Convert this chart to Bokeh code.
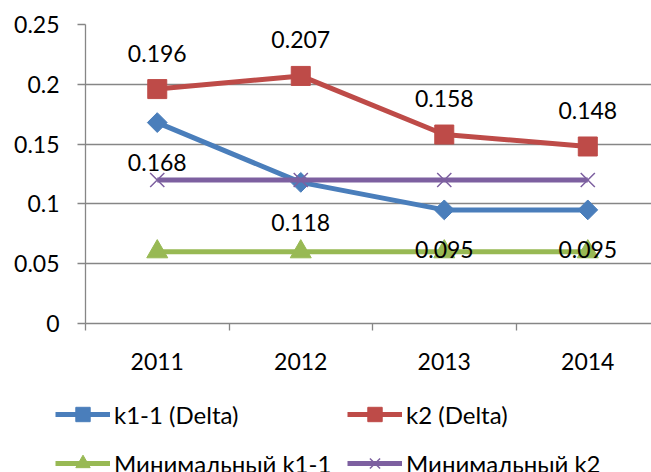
from bokeh.plotting import figure
from bokeh.layouts import column, row
from bokeh.models import FixedTicker, Legend, LegendItem, Range1d
from bokeh.core.properties import value
from bokeh.embed import file_html
from bokeh.resources import INLINE
import math

# Chart data
years = ["2011", "2012", "2013", "2014"]
k11_delta = [0.168, 0.118, 0.095, 0.095]
k2_delta = [0.196, 0.207, 0.158, 0.148]
min_k11 = [0.06, 0.06, 0.06, 0.06]
min_k2 = [0.12, 0.12, 0.12, 0.12]
y_ticks = [0, 0.05, 0.1, 0.15, 0.2, 0.25]
y_tick_labels = ["0", "0.05", "0.1", "0.15", "0.2", "0.25"]
series_names = ["k1-1 (Delta)", "k2 (Delta)", "Минимальный k1-1", "Минимальный k2"]

FONT = "Lato"
FS = "23px"
LEGEND_FS = "24px"
GRID = "#868686"
BLUE = "#4A7EBB"
RED = "#BE4B48"
GREEN = "#98B954"
PURPLE = "#7D60A0"

xs = list(range(len(years)))

# ---- main chart ----
p = figure(
    width=651, height=380,
    output_backend="svg", toolbar_location=None,
    x_range=Range1d(-0.5, 3.444), y_range=Range1d(0, 0.25),
    min_border_left=85, min_border_top=24, min_border_right=0,
    min_border_bottom=57,
)
p.outline_line_color = None
p.xgrid.visible = False
p.ygrid.grid_line_color = GRID
p.ygrid.grid_line_width = 1.3

# y axis
p.yaxis.ticker = FixedTicker(ticks=y_ticks)
p.yaxis.major_label_overrides = {t: l for t, l in zip(y_ticks, y_tick_labels)}
p.yaxis.axis_line_color = GRID
p.yaxis.axis_line_width = 1.3
p.yaxis.major_tick_line_color = GRID
p.yaxis.major_tick_line_width = 1.3
p.yaxis.major_tick_out = 8
p.yaxis.major_tick_in = 0
p.yaxis.minor_tick_line_color = None
p.yaxis.major_label_standoff = 18
p.yaxis.major_label_text_font = FONT
p.yaxis.major_label_text_font_size = FS
p.yaxis.major_label_text_color = "black"

# x axis: labels at category centres, tick marks between categories
p.xaxis.ticker = FixedTicker(ticks=xs, minor_ticks=[i - 0.5 for i in range(len(years) + 1)])
p.xaxis.major_label_overrides = {i: y for i, y in zip(xs, years)}
p.xaxis.axis_line_color = GRID
p.xaxis.axis_line_width = 1.3
p.xaxis.major_tick_line_color = None
p.xaxis.major_tick_out = 0
p.xaxis.major_tick_in = 0
p.xaxis.minor_tick_line_color = GRID
p.xaxis.minor_tick_line_width = 1.3
p.xaxis.minor_tick_out = 7
p.xaxis.minor_tick_in = 0
p.xaxis.major_label_standoff = 22
p.xaxis.major_label_text_font = FONT
p.xaxis.major_label_text_font_size = FS
p.xaxis.major_label_text_color = "black"


def draw_series(fig):
    """Lines and markers for the four series; returns (line, marker) pairs."""
    out = []
    l = fig.line(xs, k11_delta, line_color=BLUE, line_width=5)
    m = fig.scatter(xs, k11_delta, marker="square", angle=math.pi / 4, size=14,
                    fill_color=BLUE, line_color=BLUE)
    out.append((l, m))
    l = fig.line(xs, k2_delta, line_color=RED, line_width=5)
    m = fig.scatter(xs, k2_delta, marker="square", size=19, fill_color=RED, line_color=RED)
    out.append((l, m))
    l = fig.line(xs, min_k11, line_color=GREEN, line_width=5)
    m = fig.scatter(xs, min_k11, marker="triangle", size=21, fill_color=GREEN, line_color=GREEN)
    out.append((l, m))
    l = fig.line(xs, min_k2, line_color=PURPLE, line_width=5)
    m = fig.scatter(xs, min_k2, marker="x", size=20, line_color=PURPLE, line_width=1.5)
    out.append((l, m))
    return out


draw_series(p)

# data labels
p.text(xs, k2_delta, text=[f"{v:g}" for v in k2_delta], y_offset=-36,
       text_align="center", text_baseline="middle",
       text_font=value(FONT), text_font_size=FS, text_color="black")
p.text(xs, k11_delta, text=[f"{v:g}" for v in k11_delta], y_offset=40,
       text_align="center", text_baseline="middle",
       text_font=value(FONT), text_font_size=FS, text_color="black")

# ---- legend strip under the chart ----
lg = figure(
    width=651, height=92,
    output_backend="svg", toolbar_location=None,
    x_axis_type=None, y_axis_type=None,
    x_range=Range1d(10, 11), y_range=Range1d(10, 11),
    min_border=0, min_border_left=0, min_border_right=0,
    min_border_top=0, min_border_bottom=0,
)
lg.outline_line_color = None
lg.xgrid.visible = False
lg.ygrid.visible = False
pairs = draw_series(lg)


def make_legend(idx, x):
    return Legend(
        items=[LegendItem(label=series_names[i], renderers=list(pairs[i])) for i in idx],
        location=(x, -9),
        orientation="vertical",
        glyph_width=55, glyph_height=36, label_height=36,
        label_standoff=4, spacing=13, padding=0, margin=0,
        label_text_font=FONT, label_text_font_size=LEGEND_FS, label_text_color="black",
        border_line_color=None, background_fill_alpha=0,
    )


lg.add_layout(make_legend([0, 2], 55))
lg.add_layout(make_legend([1, 3], 347))

layout = column(p, row(lg, spacing=0), spacing=0)
open("out.html", "w").write(file_html(layout, INLINE))
